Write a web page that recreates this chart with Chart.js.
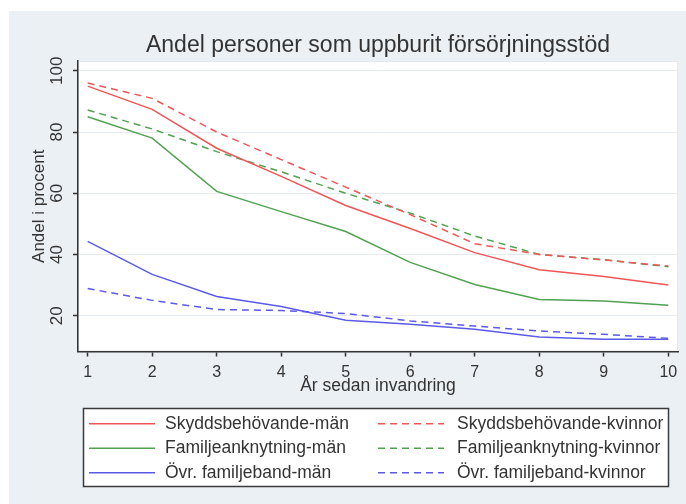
<!DOCTYPE html>
<html>
<head>
<meta charset="utf-8">
<script src="https://cdn.jsdelivr.net/npm/chart.js@4"></script>
<style>
  html, body { margin: 0; padding: 0; background: #ffffff; }
  canvas { display: block; }
</style>
</head>
<body>
<canvas id="c" width="686" height="504"></canvas>
<script>
// ---- Data ----
const years = [1, 2, 3, 4, 5, 6, 7, 8, 9, 10];
const skyddMan   = [95.0, 87.4, 74.7, 65.5, 56.0, 48.5, 40.6, 35.0, 32.8, 30.0];
const skyddKv    = [96.0, 91.0, 80.0, 71.0, 62.0, 53.0, 43.5, 40.0, 38.2, 36.2];
const famMan     = [85.0, 78.0, 60.6, 54.0, 47.5, 37.4, 30.2, 25.3, 24.8, 23.4];
const famKv      = [87.2, 81.0, 73.6, 67.0, 60.0, 53.5, 46.0, 40.0, 38.3, 36.0];
const ovrMan     = [44.3, 33.5, 26.3, 23.0, 18.5, 17.2, 15.6, 13.0, 12.3, 12.3];
const ovrKv      = [28.9, 25.0, 22.0, 21.7, 20.7, 18.3, 16.6, 15.0, 13.9, 12.6];
const yTicks = [20, 40, 60, 80, 100];
const seriesLabels = [
  'Skyddsbehövande-män', 'Skyddsbehövande-kvinnor',
  'Familjeanknytning-män', 'Familjeanknytning-kvinnor',
  'Övr. familjeband-män', 'Övr. familjeband-kvinnor'
];
const titleText = 'Andel personer som uppburit försörjningsstöd';
const xTitle = 'År sedan invandring';
const yTitle = 'Andel i procent';

// ---- Styles ----
const RED = '#ef5656', GREEN = '#50a250', BLUE = '#5a5ae8';
const DASH = [7, 5];
const FONT = "'Liberation Sans', Arial, sans-serif";
const TXT = '#333333';

function ds(label, data, color, dashed) {
  return {
    label, data, borderColor: color, backgroundColor: color,
    borderWidth: 1.5, borderDash: dashed ? DASH : [],
    pointRadius: 0, tension: 0, fill: false
  };
}

const bgPlugin = {
  id: 'bg',
  beforeDraw(chart) {
    const { ctx, chartArea: a } = chart;
    ctx.save();
    ctx.fillStyle = '#ffffff';
    ctx.fillRect(0, 0, chart.width, chart.height);
    ctx.fillStyle = '#ebf0f4';
    ctx.fillRect(9, 11, chart.width - 9, chart.height - 11);
    ctx.fillStyle = '#ffffff';
    ctx.fillRect(a.left, a.top, a.right - a.left, a.bottom - a.top);
    ctx.strokeStyle = '#e2e8ee';
    ctx.lineWidth = 1;
    ctx.strokeRect(a.left + 0.5, a.top + 0.5, a.right - a.left - 1, a.bottom - a.top - 1);
    ctx.restore();
  },
  afterDraw(chart) {
    const { ctx, chartArea: a } = chart;
    ctx.save();
    ctx.font = '23px ' + FONT;
    ctx.fillStyle = TXT;
    ctx.textAlign = 'center';
    ctx.textBaseline = 'alphabetic';
    ctx.fillText(titleText, (a.left + a.right) / 2, 52);
    ctx.restore();
  }
};

const legendPlugin = {
  id: 'boxLegend',
  afterDraw(chart) {
    const { ctx } = chart;
    const bx = 83, by = 408, bw = 586, bh = 79;
    ctx.save();
    ctx.fillStyle = '#ffffff';
    ctx.fillRect(bx, by, bw, bh);
    ctx.strokeStyle = '#3a3a3a';
    ctx.lineWidth = 1.5;
    ctx.strokeRect(bx + 0.5, by + 0.5, bw - 1, bh - 1);
    ctx.font = '17.5px ' + FONT;
    ctx.textBaseline = 'middle';
    chart.data.datasets.forEach((d, i) => {
      const col = i % 2, row = Math.floor(i / 2);
      const y = 423.7 + row * 24.5;
      const sx = col ? 378 : 89;
      const tx = col ? 457 : 165;
      ctx.beginPath();
      ctx.setLineDash(d.borderDash || []);
      ctx.strokeStyle = d.borderColor;
      ctx.lineWidth = 1.5;
      ctx.moveTo(sx, y);
      ctx.lineTo(sx + 66, y);
      ctx.stroke();
      ctx.setLineDash([]);
      ctx.fillStyle = TXT;
      ctx.fillText(d.label, tx, y);
    });
    ctx.restore();
  }
};

new Chart(document.getElementById('c'), {
  type: 'line',
  data: {
    labels: years,
    datasets: [
      ds(seriesLabels[0], skyddMan, RED, false),
      ds(seriesLabels[1], skyddKv, RED, true),
      ds(seriesLabels[2], famMan, GREEN, false),
      ds(seriesLabels[3], famKv, GREEN, true),
      ds(seriesLabels[4], ovrMan, BLUE, false),
      ds(seriesLabels[5], ovrKv, BLUE, true)
    ]
  },
  options: {
    responsive: false,
    devicePixelRatio: 1,
    animation: false,
    layout: { padding: { left: 12, right: 8, top: 61, bottom: 102.5 } },
    plugins: {
      legend: { display: false },
      tooltip: { enabled: false },
      title: { display: false }
    },
    scales: {
      x: {
        type: 'linear', min: 0.85, max: 10.15,
        afterBuildTicks(s) { s.ticks = years.map(v => ({ value: v })); },
        afterFit(s) { s.height = 50; },
        grid: { display: true, drawOnChartArea: false, drawTicks: true, tickLength: 5, tickColor: '#333', tickWidth: 1.5 },
        border: { display: true, color: '#333', width: 1.5 },
        ticks: { color: TXT, font: { family: FONT, size: 16 }, padding: 6, maxRotation: 0, autoSkip: false },
        title: { display: true, text: xTitle, color: TXT, font: { family: FONT, size: 17.5 }, padding: { top: 0, bottom: 5 } }
      },
      y: {
        type: 'linear', min: 8.3, max: 103.2,
        afterBuildTicks(s) { s.ticks = yTicks.map(v => ({ value: v })); },
        afterFit(s) { s.width = 66; },
        grid: { color: '#e4eaef', lineWidth: 1, drawTicks: true, tickLength: 5, tickColor: '#333', tickWidth: 1.5 },
        border: { display: true, color: '#333', width: 1.5 },
        ticks: { color: TXT, font: { family: FONT, size: 17 }, padding: 2, minRotation: 90, maxRotation: 90, crossAlign: 'center' },
        title: { display: true, text: yTitle, color: TXT, font: { family: FONT, size: 17 }, padding: { top: 17, bottom: 0 } }
      }
    }
  },
  plugins: [bgPlugin, legendPlugin]
});
</script>
</body>
</html>
